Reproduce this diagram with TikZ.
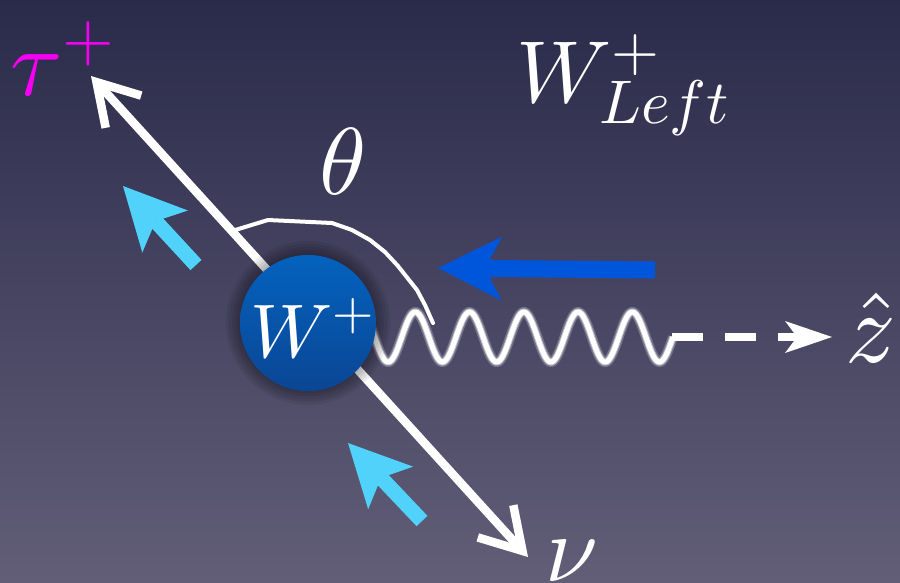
\documentclass[tikz,border=0pt]{standalone}
\DeclareFontShape{OML}{cmm}{m}{it}{<->cmmi10}{}
\DeclareFontShape{OMS}{cmsy}{m}{n}{<->cmsy10}{}
\DeclareFontShape{OT1}{cmr}{m}{n}{<->cmr10}{}
\usetikzlibrary{arrows.meta}
\definecolor{bgtop}{RGB}{42,42,74}
\definecolor{bgbot}{RGB}{98,94,120}
\definecolor{wblueT}{RGB}{4,98,190}
\definecolor{wblueB}{RGB}{10,70,148}
\definecolor{harrow}{RGB}{0,86,218}
\definecolor{spin}{RGB}{80,210,250}
\definecolor{taucol}{RGB}{245,0,245}
\begin{document}
\begin{tikzpicture}[x=1pt,y=-1pt,
  lbl/.style={text=white, inner sep=0pt, outer sep=0pt},
  particle/.style={white, line width=8.5pt,
    {Straight Barb[length=40pt,width=48pt]}-{Straight Barb[length=40pt,width=48pt]}},
  spinarrow/.style={spin, line width=15pt,
    -{Stealth[length=62pt,width=62pt,inset=14pt,line width=0pt]}},
  helarrow/.style={harrow, line width=17pt,
    -{Stealth[length=64pt,width=64pt,inset=17pt,line width=0pt]}},
  zaxis/.style={white, line width=8pt, dash pattern=on 31pt off 22pt,
    -{Stealth[length=47pt,width=32pt,inset=12pt,line width=0pt]}},
  anglearc/.style={white, line width=4pt, line join=round, line cap=round},
  wboson/.style={circle, minimum size=136pt, inner sep=0pt,
    top color=wblueT, bottom color=wblueB},
  halo/.style={fill=black, opacity=0.07}
]
\fill[top color=bgtop, bottom color=bgbot] (0,0) rectangle (900,582);
\useasboundingbox (0,0) rectangle (900,582);

% particle line tau <-> nu
\coordinate (tautip) at (91,76);
\coordinate (nutip) at (528,557);
\draw[particle] (tautip) -- (nutip);

% wavy W line
\draw[white!45!bgbot, line width=10pt, opacity=0.45]
  plot[domain=350:673, samples=260] (\x, {337-25*sin(6.6359*(\x-673))});
\draw[white!80!bgbot, line width=7pt, opacity=0.7]
  plot[domain=350:673, samples=260] (\x, {337-25*sin(6.6359*(\x-673))});
\draw[white, line width=5pt]
  plot[domain=350:673, samples=260] (\x, {337-25*sin(6.6359*(\x-673))});
\coordinate (wend) at (672,337);
\coordinate (zarr) at (832,337);
\draw[zaxis] (wend) -- (zarr);

% W boson with soft shadow
\foreach \r in {82,79,76,73,70} {\fill[halo] (308,323) circle (\r);}
\node[wboson] (W) at (308,323) {};
\node[lbl, anchor=base west, font=\fontsize{76}{76}\selectfont] (Wlab) at (250,357) {$W^+$};

% angle arc
\draw[anglearc] (232,231) -- (268,220) -- (332,223) -- (352,230) -- (370,240) -- (385,252) -- (398,266) -- (417,290) -- (425,305) -- (433,323);
\node[lbl, font=\fontsize{95}{95}\selectfont] (theta) at (343,162) {$\theta$};

% helicity arrow
\coordinate (hs) at (655,270);
\coordinate (ht) at (438,268);
\draw[helarrow] (hs) -- (ht);

% spin arrows
\coordinate (s1s) at (196,265);
\coordinate (s1t) at (123,186);
\draw[spinarrow] (s1s) -- (s1t);
\coordinate (s2s) at (422,521);
\coordinate (s2t) at (348,443);
\draw[spinarrow] (s2s) -- (s2t);

% labels
\node[lbl, text=taucol, anchor=base west, font=\fontsize{95}{95}\selectfont] (tau) at (10,95) {$\tau^+$};
\node[lbl, anchor=base west, font=\fontsize{88}{88}\selectfont] (WL) at (516,102) {$W^+_{Left}$};
\node[lbl, anchor=base west, font=\fontsize{95}{95}\selectfont] (nu) at (545,581) {$\nu$};
\node[lbl, anchor=base west, font=\fontsize{100}{100}\selectfont] (z) at (845,362) {$\hat{z}$};
\end{tikzpicture}
\end{document}
